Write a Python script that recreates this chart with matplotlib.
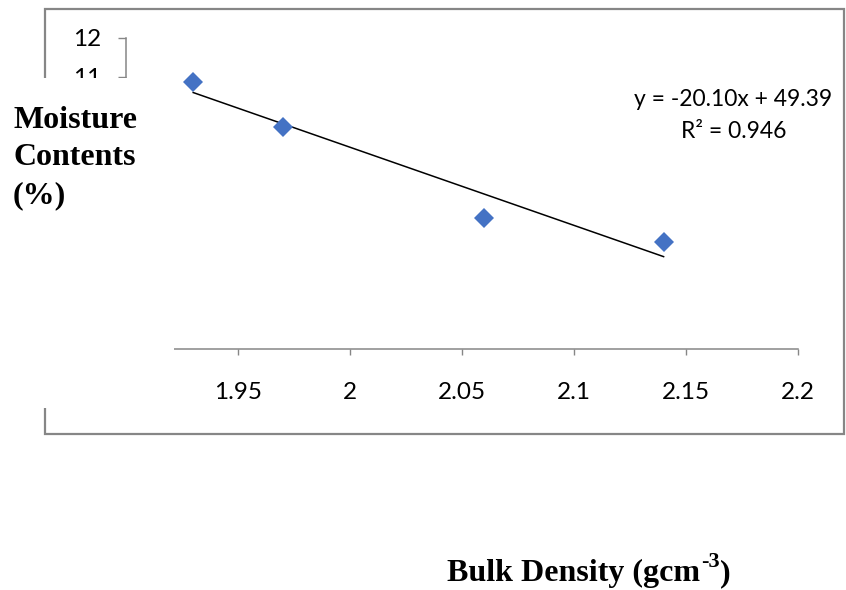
import matplotlib
matplotlib.use("Agg")
import matplotlib.pyplot as plt
from matplotlib.patches import Rectangle

# measured samples
bulk_density = [1.93, 1.97, 2.06, 2.14]
moisture = [10.87, 9.71, 7.37, 6.75]

# linear trendline reported on the chart
slope = -20.10
intercept = 49.39
r_squared = 0.946

x_ticks = [1.95, 2.0, 2.05, 2.1, 2.15, 2.2]
x_tick_labels = ["1.95", "2", "2.05", "2.1", "2.15", "2.2"]
y_ticks = list(range(4, 13))
# lower labels sit under the title box, only the top two show
y_tick_labels = ["", "", "", "", "", "", "", "11", "12"]

W, H = 846, 590
grey = "#868686"

fig = plt.figure(figsize=(W / 100, H / 100), dpi=100)
ax = fig.add_axes([126 / W, (H - 349) / H, 672 / W, 311 / H])

ax.plot(bulk_density, moisture, "D", color="#4472C4", markersize=10,
        markeredgewidth=0, clip_on=False, zorder=3)

# trendline over the data range
x_fit = [min(bulk_density), max(bulk_density)]
y_fit = [slope * x + intercept for x in x_fit]
ax.plot(x_fit, y_fit, color="black", lw=1.1, zorder=2)

ax.set_xlim(1.9, 2.2)
ax.set_ylim(4, 12)
ax.set_xticks(x_ticks)
ax.set_xticklabels(x_tick_labels)
ax.set_yticks(y_ticks)
ax.set_yticklabels(y_tick_labels)
ax.tick_params(axis="x", direction="out", length=4.5, width=1, color=grey,
               pad=19, labelsize=17.5)
ax.tick_params(axis="y", direction="out", length=5.5, width=1, color=grey,
               pad=12, labelsize=17.5)
for lab in ax.get_xticklabels() + ax.get_yticklabels():
    lab.set_fontfamily("Lato")
for side in ("top", "right"):
    ax.spines[side].set_visible(False)
for side in ("left", "bottom"):
    ax.spines[side].set_color(grey)
    ax.spines[side].set_linewidth(1.1)

# chart border
fig.add_artist(Rectangle((45 / W, (H - 434) / H), (844 - 45) / W, (434 - 9) / H,
                         transform=fig.transFigure, fill=False,
                         edgecolor=grey, lw=1.6, zorder=1))

# y-axis title box sitting over the left of the chart
fig.add_artist(Rectangle((0, (H - 408) / H), 174 / W, (408 - 78) / H,
                         transform=fig.transFigure, facecolor="white",
                         edgecolor="none", zorder=5))
for line, base in zip(["Moisture", "Contents", "(%)"], [128, 165, 203]):
    fig.text(13 / W, (H - base) / H, line, family="Liberation Serif",
             weight="bold", fontsize=23, va="baseline", ha="left", zorder=6)

# trendline equation
fig.text(733 / W, (H - 100) / H, f"y = {slope:.2f}x + {intercept:.2f}",
         family="Lato", fontsize=16.5, ha="center", va="center")
fig.text(734 / W, (H - 132) / H, f"R² = {r_squared:.3f}",
         family="Lato", fontsize=16.5, ha="center", va="center")

# x-axis title with superscript unit
t1 = fig.text(447 / W, (H - 581) / H, "Bulk Density (gcm", family="Liberation Serif",
              weight="bold", fontsize=23, va="baseline", ha="left")
sup = ax.annotate("-3", xy=(1, 1), xycoords=t1, xytext=(0.5, 5), textcoords="offset points",
                  family="Liberation Serif", weight="bold", fontsize=16,
                  ha="left", va="top", annotation_clip=False)
ax.annotate(")", xy=(1, 0), xycoords=(sup, t1), xytext=(0.5, 0), textcoords="offset points",
            family="Liberation Serif", weight="bold", fontsize=23,
            ha="left", va="bottom", annotation_clip=False)

fig.savefig("out.png", dpi=100)
